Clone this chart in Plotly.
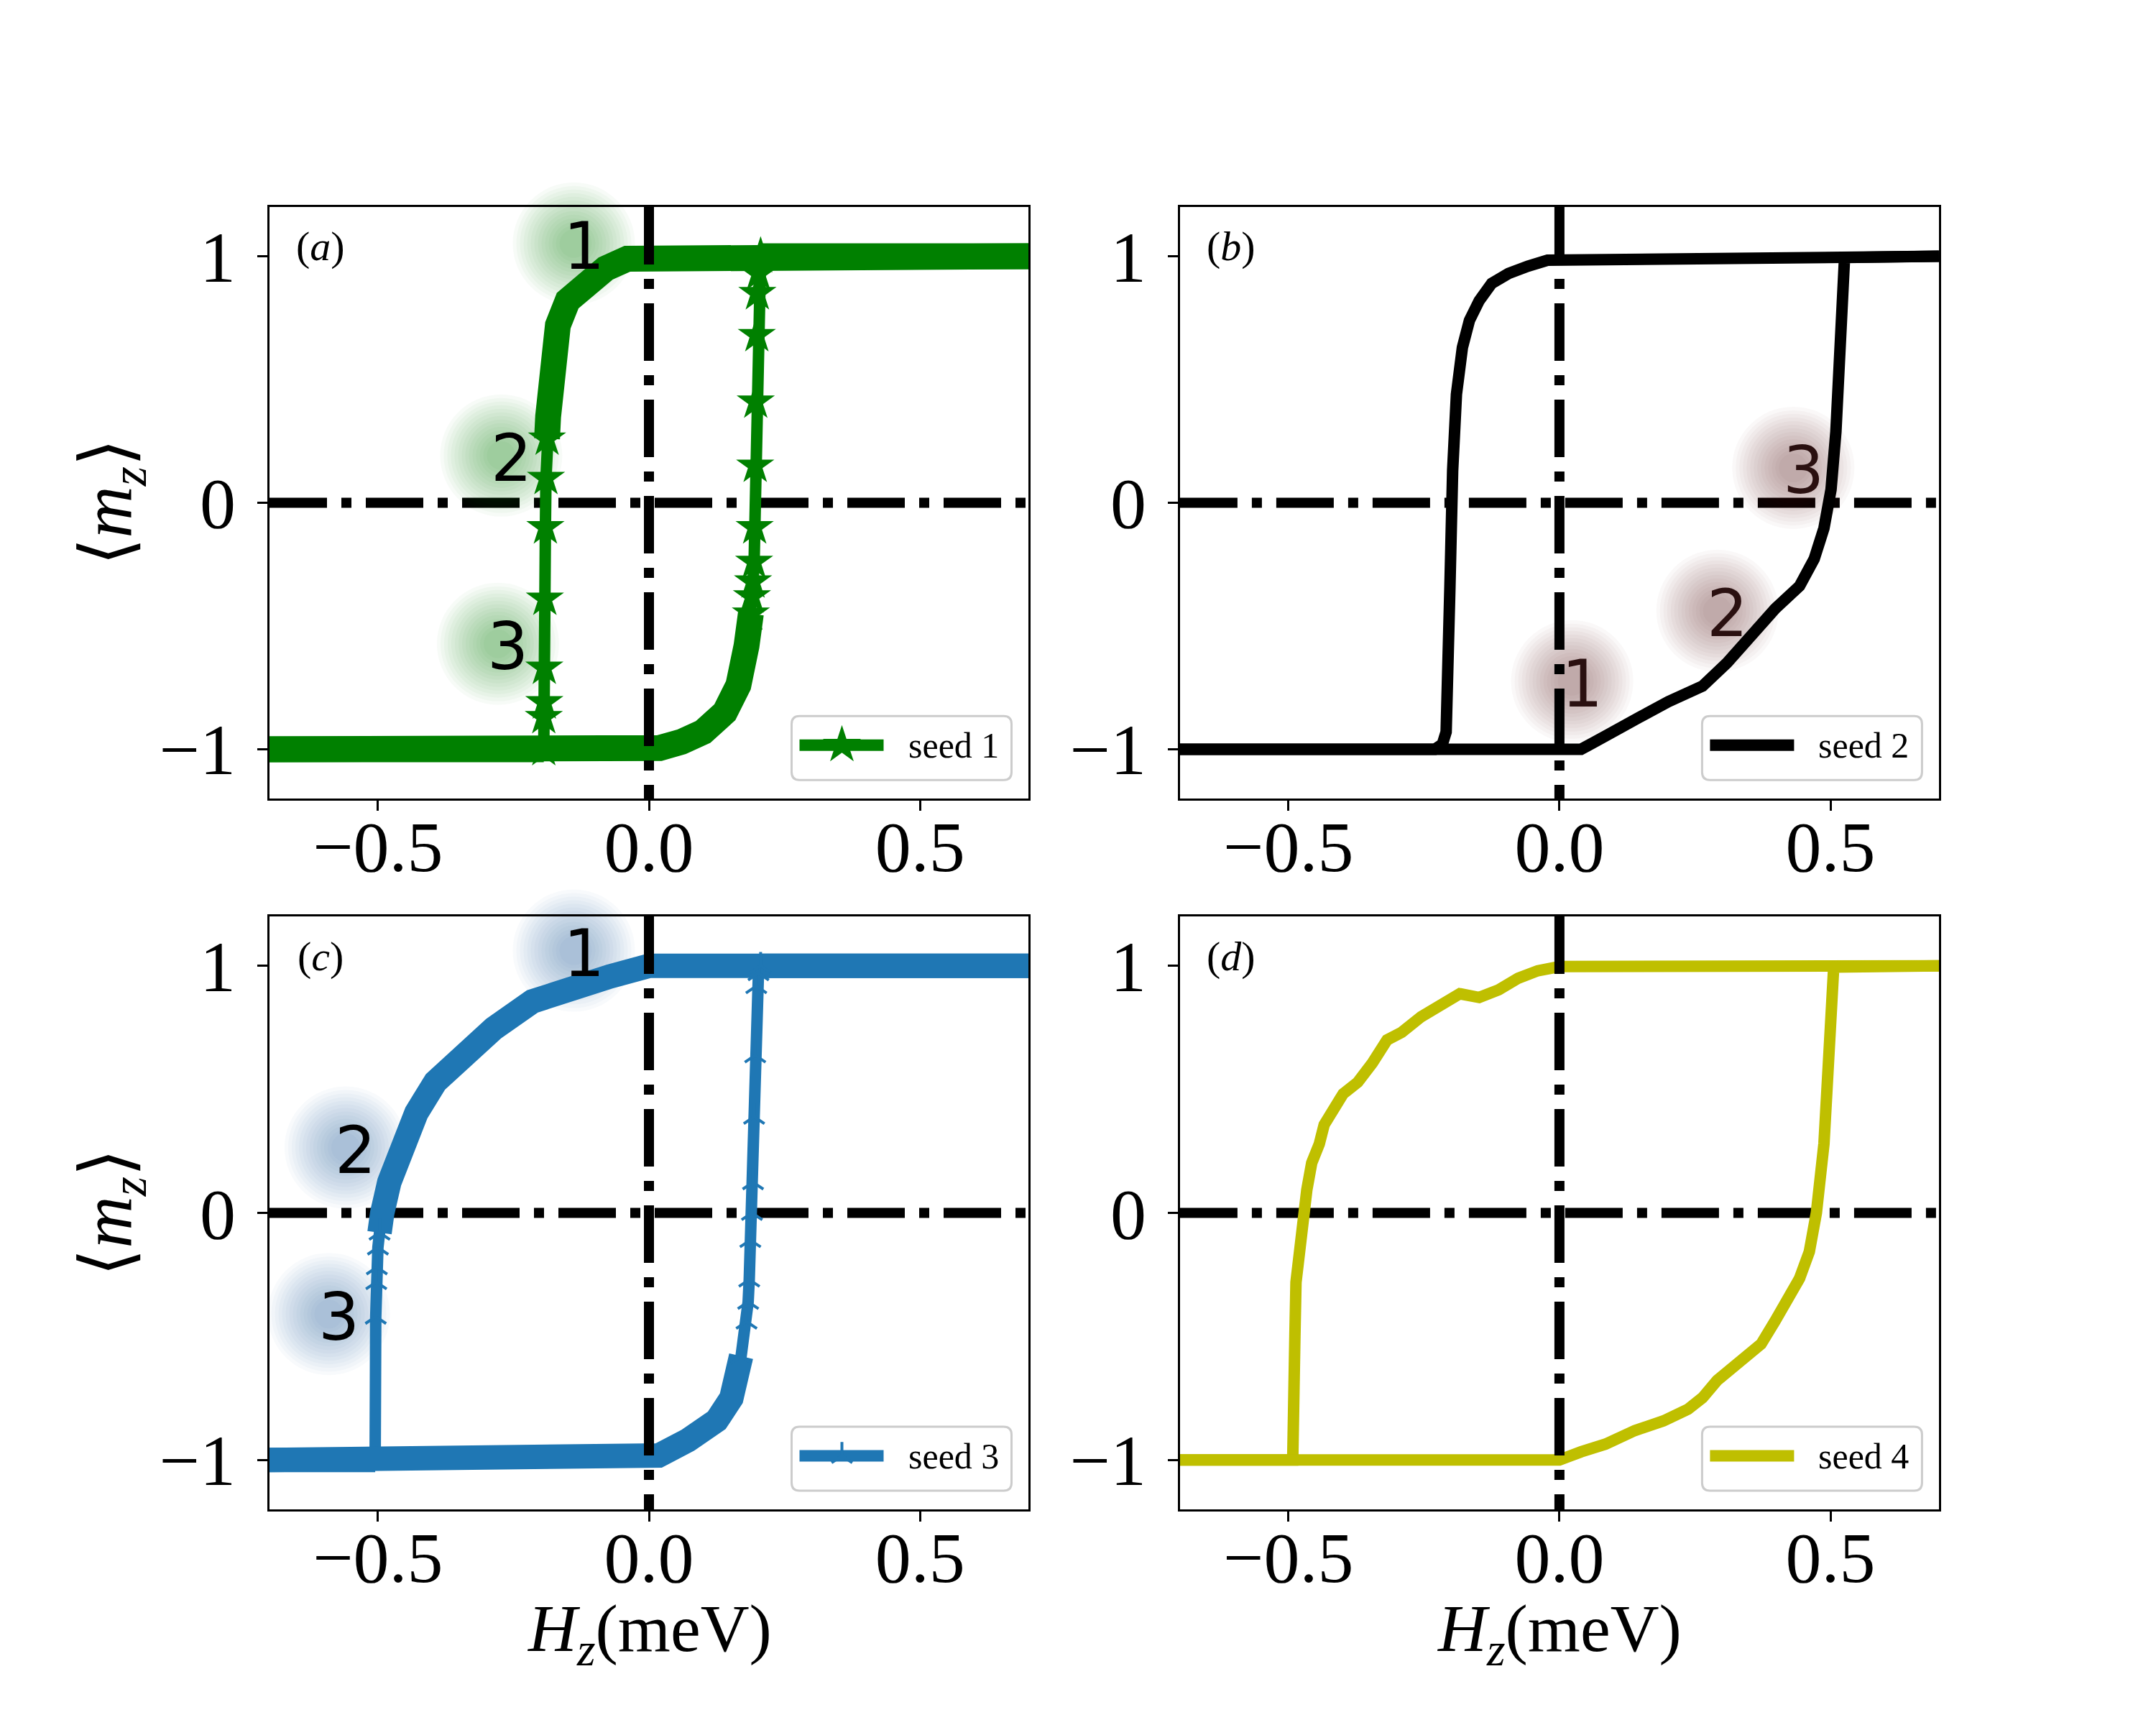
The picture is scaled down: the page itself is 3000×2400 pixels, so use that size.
import plotly.graph_objects as go

# ---------------- data ----------------
x_tick_vals = [-0.5, 0.0, 0.5]
x_tick_text = ["−0.5", "0.0", "0.5"]
y_tick_vals = [-1, 0, 1]
y_tick_text = ["−1", "0", "1"]

panel_letters = ["a", "b", "c", "d"]
seed_labels = ["seed 1", "seed 2", "seed 3", "seed 4"]
seed_colors = ["#008000", "#000000", "#1f77b4", "#bfbf00"]

# seed 1  (a)
a_down_x = [0.70, 0.00, -0.04, -0.08, -0.12, -0.15, -0.168, -0.18, -0.186, -0.188, -0.190, -0.191, -0.192, -0.193, -0.193, -0.194, -0.194, -0.70]
a_down_y = [1.00, 1.00, 0.99, 0.95, 0.89, 0.82, 0.72, 0.55, 0.35, 0.26, 0.10, -0.10, -0.39, -0.67, -0.81, -0.87, -1.00, -1.00]
a_up_x = [-0.70, 0.00, 0.02, 0.06, 0.10, 0.14, 0.165, 0.18, 0.188, 0.190, 0.192, 0.194, 0.195, 0.196, 0.197, 0.199, 0.200, 0.202, 0.206, 0.70]
a_up_y = [-1.00, -1.00, -0.995, -0.97, -0.93, -0.85, -0.74, -0.58, -0.45, -0.38, -0.32, -0.24, -0.10, 0.15, 0.41, 0.68, 0.85, 0.93, 1.00, 1.00]

# seed 2  (b)
b_down_x = [0.70, 0.00, -0.022, -0.058, -0.094, -0.125, -0.148, -0.166, -0.179, -0.190, -0.197, -0.202, -0.205, -0.209, -0.216, -0.23, -0.70]
b_down_y = [1.00, 0.995, 0.984, 0.96, 0.93, 0.89, 0.82, 0.74, 0.63, 0.44, 0.13, -0.34, -0.81, -0.93, -0.98, -1.00, -1.00]
b_up_x = [-0.70, 0.04, 0.058, 0.094, 0.148, 0.201, 0.264, 0.309, 0.354, 0.398, 0.443, 0.47, 0.488, 0.501, 0.51, 0.517, 0.522, 0.526, 0.70]
b_up_y = [-1.00, -1.00, -0.979, -0.932, -0.87, -0.807, -0.744, -0.65, -0.54, -0.43, -0.338, -0.228, -0.103, 0.053, 0.288, 0.6, 0.913, 0.995, 1.00]

# seed 3  (c)
c_down_x = [0.70, 0.00, -0.072, -0.143, -0.215, -0.286, -0.34, -0.394, -0.429, -0.456, -0.479, -0.492, -0.497, -0.500, -0.502, -0.503, -0.504, -0.505, -0.505, -0.70]
c_down_y = [1.00, 1.00, 0.957, 0.918, 0.856, 0.747, 0.64, 0.53, 0.405, 0.28, 0.124, 0.0, -0.08, -0.14, -0.22, -0.28, -0.42, -0.94, -1.00, -1.00]
c_up_x = [-0.70, 0.00, 0.018, 0.072, 0.125, 0.152, 0.170, 0.180, 0.183, 0.185, 0.187, 0.190, 0.192, 0.194, 0.196, 0.198, 0.202, 0.206, 0.70]
c_up_y = [-1.00, -1.00, -0.982, -0.92, -0.84, -0.75, -0.58, -0.44, -0.36, -0.27, -0.11, 0.0, 0.124, 0.389, 0.638, 0.918, 0.97, 1.00, 1.00]

# seed 4  (d)
d_down_x = [0.70, 0.00, -0.04, -0.076, -0.112, -0.148, -0.184, -0.219, -0.255, -0.291, -0.318, -0.345, -0.372, -0.399, -0.416, -0.434, -0.443, -0.457, -0.466, -0.472, -0.479, -0.486, -0.488, -0.489, -0.492, -0.70]
d_down_y = [1.00, 0.997, 0.98, 0.95, 0.903, 0.872, 0.887, 0.841, 0.794, 0.731, 0.70, 0.607, 0.529, 0.482, 0.42, 0.357, 0.279, 0.202, 0.093, 0.0, -0.157, -0.281, -0.5, -0.967, -1.0, -1.0]
d_up_x = [-0.70, 0.00, 0.04, 0.085, 0.139, 0.192, 0.237, 0.264, 0.291, 0.318, 0.345, 0.372, 0.398, 0.425, 0.443, 0.461, 0.474, 0.488, 0.497, 0.501, 0.506, 0.70]
d_up_y = [-1.00, -1.00, -0.967, -0.936, -0.881, -0.842, -0.795, -0.748, -0.678, -0.624, -0.577, -0.531, -0.437, -0.343, -0.265, -0.157, 0.0, 0.28, 0.591, 0.903, 0.995, 1.00]

# blurred numbered markers
mark_text = ["1", "2", "3"]
a_mark_x = [-0.12, -0.254, -0.26]
a_mark_y = [1.04, 0.18, -0.584]
b_mark_x = [0.042, 0.31, 0.45]
b_mark_y = [-0.736, -0.45, 0.13]
c_mark_x = [-0.12, -0.541, -0.572]
c_mark_y = [1.05, 0.253, -0.421]

# index ranges of densely sampled (thick) stretches and sparse jump stretches
A_DOWN_DENSE, A_DOWN_JUMP = [(0, 10), (16, 18)], (9, 17)
A_UP_DENSE, A_UP_JUMP = [(0, 9), (18, 20)], (8, 19)
C_DOWN_DENSE, C_DOWN_JUMP = [(0, 13), (18, 20)], (12, 17)
C_UP_DENSE, C_UP_JUMP = [(0, 7), (17, 19)], (6, 18)

# ---------------- layout geometry ----------------
W, H = 3000, 2400
X_RANGE = [-0.7, 0.7]
Y_RANGE = [-1.2, 1.2]
XD = [[0.125, 0.477], [0.5473, 0.8993]]
YD = [[0.5371, 0.88], [0.125, 0.46875]]
SERIF = "Liberation Serif, Times New Roman, serif"
SANS = "DejaVu Sans, sans-serif"

panels = [
    dict(down=(a_down_x, a_down_y), up=(a_up_x, a_up_y),
         dense=[(0, A_DOWN_DENSE), (1, A_UP_DENSE)], jump=[(0, A_DOWN_JUMP), (1, A_UP_JUMP)],
         marker=dict(symbol="star", size=40, color=seed_colors[0], line=dict(width=0)),
         band=36, marks=(a_mark_x, a_mark_y), halo="0,128,0", mark_color="#000000"),
    dict(down=(b_down_x, b_down_y), up=(b_up_x, b_up_y), dense=[], jump=[], marker=None,
         band=0, marks=(b_mark_x, b_mark_y), halo="90,40,40", mark_color="#2a1010"),
    dict(down=(c_down_x, c_down_y), up=(c_up_x, c_up_y),
         dense=[(0, C_DOWN_DENSE), (1, C_UP_DENSE)], jump=[(0, C_DOWN_JUMP), (1, C_UP_JUMP)],
         marker=dict(symbol="y-up", size=24, color=seed_colors[2], line=dict(width=4, color=seed_colors[2])),
         band=34, marks=(c_mark_x, c_mark_y), halo="40,80,160", mark_color="#000000"),
    dict(down=(d_down_x, d_down_y), up=(d_up_x, d_up_y), dense=[], jump=[], marker=None,
         band=0, marks=None, halo=None, mark_color=None),
]

fig = go.Figure()
shapes = []
annotations = []
LINE_W = 16
HALO_SIZES = list(range(170, 30, -10))

for i, p in enumerate(panels):
    row, col = divmod(i, 2)
    xa = "x" if i == 0 else f"x{i + 1}"
    ya = "y" if i == 0 else f"y{i + 1}"
    color = seed_colors[i]
    ppx = W * (XD[col][1] - XD[col][0]) / (X_RANGE[1] - X_RANGE[0])
    ppy = H * (YD[row][1] - YD[row][0]) / (Y_RANGE[1] - Y_RANGE[0])

    axis_common = dict(showline=True, mirror=True, linecolor="black", linewidth=3,
                       ticks="outside", ticklen=14, tickwidth=3, tickcolor="black",
                       showgrid=False, zeroline=False,
                       tickfont=dict(family=SERIF, size=100, color="black"))
    fig.update_layout(**{
        ("xaxis" if i == 0 else f"xaxis{i + 1}"): dict(
            domain=XD[col], anchor=ya, range=X_RANGE, tickvals=x_tick_vals,
            ticktext=x_tick_text, ticklabelstandoff=-36, **axis_common),
        ("yaxis" if i == 0 else f"yaxis{i + 1}"): dict(
            domain=YD[row], anchor=xa, range=Y_RANGE, tickvals=y_tick_vals,
            ticktext=y_tick_text, ticklabelstandoff=10, **axis_common),
    })

    # soft halos behind the numbered markers
    if p["marks"] is not None:
        hx, hy, hs, ho = [], [], [], []
        for mx, my in zip(*p["marks"]):
            for s in HALO_SIZES:
                hx.append(mx - 14 / ppx)
                hy.append(my + 4 / ppy)
                hs.append(s)
                ho.append(0.03)
        fig.add_trace(go.Scatter(x=hx, y=hy, xaxis=xa, yaxis=ya, mode="markers",
                                 cliponaxis=False, hoverinfo="skip", showlegend=False,
                                 marker=dict(size=hs, opacity=ho, color=f"rgb({p['halo']})",
                                             line=dict(width=0))))

    branches = [p["down"], p["up"]]
    for bx, by in branches:
        fig.add_trace(go.Scatter(x=bx, y=by, xaxis=xa, yaxis=ya, mode="lines",
                                 line=dict(color=color, width=LINE_W), showlegend=False,
                                 hoverinfo="skip"))
    for bi, ranges in p["dense"]:
        bx, by = branches[bi]
        for s0, s1 in ranges:
            fig.add_trace(go.Scatter(x=bx[s0:s1], y=by[s0:s1], xaxis=xa, yaxis=ya, mode="lines",
                                     line=dict(color=color, width=p["band"]), showlegend=False,
                                     hoverinfo="skip"))
    for bi, (s0, s1) in p["jump"]:
        bx, by = branches[bi]
        fig.add_trace(go.Scatter(x=bx[s0:s1], y=by[s0:s1], xaxis=xa, yaxis=ya, mode="markers",
                                 marker=p["marker"], showlegend=False, hoverinfo="skip"))

    # dash-dot reference lines
    shapes.append(dict(type="line", xref=f"{xa} domain", yref=ya, x0=0, x1=1, y0=0, y1=0,
                       line=dict(color="black", width=14, dash="80px,20px,14px,20px"),
                       layer="below"))
    shapes.append(dict(type="line", xref=xa, yref=f"{ya} domain", x0=0, x1=0, y0=1, y1=0,
                       line=dict(color="black", width=14, dash="80px,20px,14px,20px"),
                       layer="above"))

    if p["marks"] is not None:
        for t, mx, my in zip(mark_text, *p["marks"]):
            annotations.append(dict(x=mx, y=my, xref=xa, yref=ya, text=t, showarrow=False,
                                    xanchor="center", yanchor="middle",
                                    font=dict(family=SANS, size=90, color=p["mark_color"])))

    annotations.append(dict(x=-0.606, y=1.04, xref=xa, yref=ya,
                            text=f"(<i>{panel_letters[i]}</i>)", showarrow=False,
                            xanchor="center", yanchor="middle",
                            font=dict(family=SERIF, size=58, color="black")))

    # legend (drawn manually to keep the thick key line)
    cx, cy = 0.466, -0.995
    bw, bh, r = 306, 89, 11
    path = (f"M{-bw/2 + r},{-bh/2} L{bw/2 - r},{-bh/2} Q{bw/2},{-bh/2} {bw/2},{-bh/2 + r} "
            f"L{bw/2},{bh/2 - r} Q{bw/2},{bh/2} {bw/2 - r},{bh/2} L{-bw/2 + r},{bh/2} "
            f"Q{-bw/2},{bh/2} {-bw/2},{bh/2 - r} L{-bw/2},{-bh/2 + r} Q{-bw/2},{-bh/2} {-bw/2 + r},{-bh/2} Z")
    shapes.append(dict(type="path", xref=xa, yref=ya, xsizemode="pixel", ysizemode="pixel",
                       xanchor=cx, yanchor=cy, path=path,
                       line=dict(color="rgb(204,204,204)", width=3),
                       fillcolor="rgba(255,255,255,0.85)", layer="below"))
    key_y = cy + 4 / ppy
    fig.add_trace(go.Scatter(x=[cx - 142 / ppx, cx - 25 / ppx], y=[key_y, key_y], xaxis=xa, yaxis=ya,
                             mode="lines", line=dict(color=color, width=LINE_W),
                             showlegend=False, hoverinfo="skip", cliponaxis=False))
    if p["marker"] is not None:
        fig.add_trace(go.Scatter(x=[cx - 83 / ppx], y=[key_y], xaxis=xa, yaxis=ya, mode="markers",
                                 marker=p["marker"], showlegend=False, hoverinfo="skip",
                                 cliponaxis=False))
    annotations.append(dict(x=cx, y=cy, xref=xa, yref=ya, xshift=7, yshift=4,
                            text=seed_labels[i], showarrow=False, xanchor="left",
                            yanchor="middle", font=dict(family=SERIF, size=50, color="black")))

# axis titles
for row in range(2):
    annotations.append(dict(x=155 / W, y=(YD[row][0] + YD[row][1]) / 2, xref="paper", yref="paper",
                            text="⟨<i>m</i><sub><i>z</i></sub>⟩", textangle=-90, showarrow=False,
                            xanchor="center", yanchor="middle",
                            font=dict(family=SERIF, size=100, color="black")))
for col in range(2):
    annotations.append(dict(x=(XD[col][0] + XD[col][1]) / 2, y=1 - 2272 / H, xref="paper", yref="paper",
                            text="<i>H</i><sub><i>z</i></sub>(meV)", showarrow=False,
                            xanchor="center", yanchor="middle",
                            font=dict(family=SERIF, size=94, color="black")))

fig.update_layout(width=W, height=H, autosize=False, margin=dict(l=0, r=0, t=0, b=0),
                  paper_bgcolor="white", plot_bgcolor="white", showlegend=False,
                  shapes=shapes, annotations=annotations)

fig.write_html("out.html")
